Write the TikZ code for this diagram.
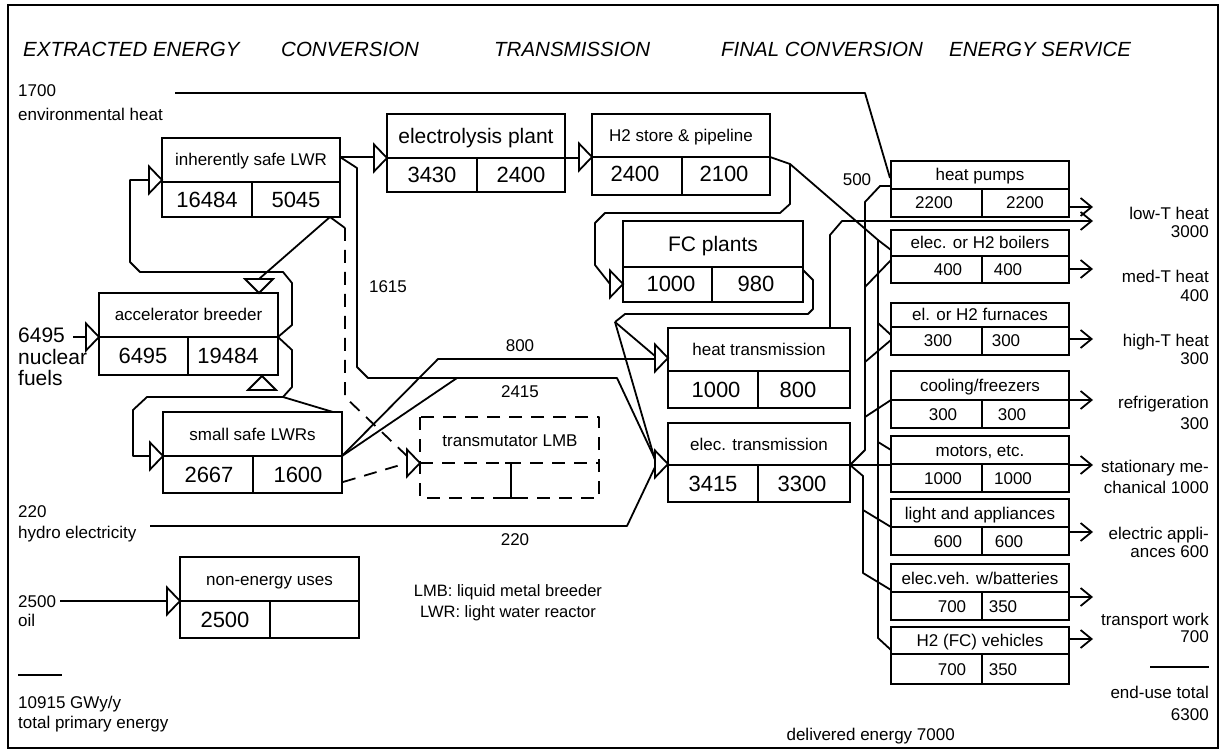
\documentclass[tikz,border=0pt]{standalone}
\usepackage{fontspec}
\setmainfont{Liberation Sans}
\usetikzlibrary{arrows.meta}
\newcommand\szS{\fontsize{17}{20}\selectfont}
\newcommand\szL{\fontsize{22}{26}\selectfont}
\newcommand\szM{\fontsize{21}{25}\selectfont}
\newcommand\szN{\fontsize{21}{25}\selectfont}
\newcommand\szH{\fontsize{20.5}{24}\selectfont\itshape}
\newcommand\szT{\fontsize{16.5}{19}\selectfont}
\newcommand\ebox[9]{%
  \draw[boxl] (#2,#3) rectangle (#5,#6);
  \draw[boxl] (#2,#4) -- (#5,#4) (#7,#4) -- (#7,#6);
  \pgfmathsetmacro\ecx{(#2+#5)/2}%
  \pgfmathsetmacro\ecy{(#3+#4)/2}%
  \node[#8] (#1) at (\ecx,\ecy) {#9};%
}
\newcommand\trir[3]{\draw[tri] (#2,#3) coordinate (#1) -- ++(-13,-13.5) -- ++(0,27) -- cycle;}
\newcommand\trid[3]{\draw[tri] (#2,#3) coordinate (#1) -- ++(-14,-14) -- ++(28,0) -- cycle;}
\newcommand\triu[3]{\draw[tri] (#2,#3) coordinate (#1) -- ++(-14,14) -- ++(28,0) -- cycle;}
\begin{document}
\begin{tikzpicture}[x=1pt,y=-1pt,
  boxl/.style={line width=2.2pt},
  ln/.style={line width=1.8pt,line join=round},
  dsh/.style={ln,dash pattern=on 13pt off 9pt},
  tri/.style={line width=1.8pt,line join=miter,fill=white},
  sarr/.style={ln,-{Straight Barb[length=11pt 0,width=18pt 0]}},
  labS/.style={inner sep=0pt,font=\szS,text height=12pt,text depth=0pt},
  labL/.style={inner sep=0pt,font=\szL,text height=15.5pt,text depth=0pt},
  labM/.style={inner sep=0pt,font=\szM,text height=15pt,text depth=0pt},
  bl/.style={font=\szS,inner sep=0pt,anchor=base west},
  blN/.style={font=\szN,inner sep=0pt,anchor=base west},
  br/.style={font=\szS,inner sep=0pt,anchor=base east},
  hd/.style={font=\szH,inner sep=0pt,anchor=base west}]
\useasboundingbox (0,0) rectangle (1224,751);
\fill[white] (0,0) rectangle (1224,751);
\draw[line width=2.2pt] (8,5) rectangle (1218,748);

% headers
\node[hd] (h1) at (23,57) {EXTRACTED ENERGY};
\node[hd] (h2) at (281,57) {CONVERSION};
\node[hd] (h3) at (494,57) {TRANSMISSION};
\node[hd] (h4) at (721,57) {FINAL CONVERSION};
\node[hd] (h5) at (949,57) {ENERGY SERVICE};

% left boxes
\ebox{isl}{162}{138}{182}{340}{217}{252}{labS}{inherently safe LWR}
\node[labL] (isl-a) at (207,199.5) {16484};
\node[labL] (isl-b) at (296,199.5) {5045};
\ebox{ele}{387}{114}{158}{565}{192}{477}{labM}{electrolysis plant}
\node[labL] (ele-a) at (432,175) {3430};
\node[labL] (ele-b) at (521,175) {2400};
\ebox{h2s}{592}{114}{157}{770}{195}{682}{labS}{H2 store \& pipeline}
\node[labL] (h2s-a) at (635,174) {2400};
\node[labL] (h2s-b) at (724,174) {2100};
\ebox{fcp}{623}{221}{267}{803}{302}{712}{labM}{FC plants}
\node[labL] (fcp-a) at (671,284) {1000};
\node[labL] (fcp-b) at (756,284) {980};
\ebox{acc}{99}{293}{337}{278}{375}{188}{labS}{accelerator breeder}
\node[labL] (acc-a) at (143,356) {6495};
\node[labL] (acc-b) at (228,356) {19484};
\ebox{ssl}{163}{412}{456}{342}{493}{253}{labS}{small safe LWRs}
\node[labL] (ssl-a) at (209,474.5) {2667};
\node[labL] (ssl-b) at (298,474.5) {1600};
\ebox{heat}{668}{328}{371}{850}{408}{758}{labS}{heat transmission}
\node[labL] (heat-a) at (716,389.5) {1000};
\node[labL] (heat-b) at (798,389.5) {800};
\ebox{elec}{668}{423}{465}{850}{502}{758}{labS}{elec. transmission}
\node[labL] (elec-a) at (713,483.5) {3415};
\node[labL] (elec-b) at (802,483.5) {3300};
\ebox{non}{180}{557}{601}{359}{638}{270}{labS}{non-energy uses}
\node[labL] (non-a) at (225,619.5) {2500};

% transmutator (dashed)
\draw[dsh] (420,417) rectangle (599,498);
\draw[dsh] (420,463) -- (599,463);
\draw[ln] (511,463) -- (511,498) (505,463) -- (517,463) (505,498) -- (517,498);
\node[labS] (tm) at (510,440) {transmutator LMB};

% right boxes
\ebox{hp}{891}{161}{189}{1069}{217}{982}{labS}{heat pumps}
\node[labS] (hp-a) at (934,203) {2200};
\node[labS] (hp-b) at (1025,203) {2200};
\ebox{bo}{891}{230}{256}{1069}{283}{982}{labS}{elec. or H2 boilers}
\node[labS] (bo-a) at (948,269.5) {400};
\node[labS] (bo-b) at (1008,269.5) {400};
\ebox{fu}{891}{303}{327}{1069}{355}{982}{labS}{el. or H2 furnaces}
\node[labS] (fu-a) at (938,341) {300};
\node[labS] (fu-b) at (1006,341) {300};
\ebox{co}{891}{371}{400}{1069}{428}{982}{labS}{cooling/freezers}
\node[labS] (co-a) at (943,414) {300};
\node[labS] (co-b) at (1012,414) {300};
\ebox{mo}{891}{436}{464}{1069}{492}{982}{labS}{motors, etc.}
\node[labS] (mo-a) at (943,478) {1000};
\node[labS] (mo-b) at (1013,478) {1000};
\ebox{li}{891}{499}{527}{1069}{555}{982}{labS}{light and appliances}
\node[labS] (li-a) at (948,541) {600};
\node[labS] (li-b) at (1009,541) {600};
\ebox{ev}{891}{564}{592}{1069}{620}{982}{labS}{elec.veh. w/batteries}
\node[labS] (ev-a) at (952,606) {700};
\node[labS] (ev-b) at (1003,606) {350};
\ebox{hv}{891}{627}{654}{1069}{684}{982}{labS}{H2 (FC) vehicles}
\node[labS] (hv-a) at (952,669) {700};
\node[labS] (hv-b) at (1003,669) {350};

% triangles (inputs)
\trir{isl-in}{162}{180}
\trir{acc-in}{99}{337}
\trir{ssl-in}{163}{456}
\trir{ele-in}{387}{158}
\trir{h2s-in}{592}{157}
\trir{fcp-in}{623}{284}
\trir{heat-in}{668}{358}
\trir{elec-in}{668}{464}
\trir{tm-in}{420}{463}
\trir{non-in}{180}{601}
\trid{acc-top}{259}{293}
\triu{acc-bot}{262}{376}

% ports
\coordinate (isl-o) at (340,157);
\coordinate (isl-c) at (330,217);
\coordinate (acc-o) at (278,337);
\coordinate (ssl-o) at (342,456);
\coordinate (ssl-c) at (333,412);
\coordinate (ssl-d) at (343,482);
\coordinate (ele-o) at (565,158);
\coordinate (h2s-o) at (770,157);
\coordinate (fcp-o) at (803,270);
\coordinate (heat-o) at (830,328);
\coordinate (elec-o) at (850,465);
\coordinate (j2415) at (457,378);
\coordinate (jfc) at (615,322);
\coordinate (jh2) at (790,164);
\coordinate (jbus) at (878,240);

% extracted energy inputs
\coordinate (env) at (175,93);
\draw[ln] (env) -- (865,93) -- (890,178);
\coordinate (nuc) at (73,337);
\draw[ln] (nuc) -- (86,337);
\coordinate (hyd) at (150,526);
\draw[ln] (hyd) -- (627,526) -- (655,467);
\coordinate (oil) at (60,601);
\draw[ln] (oil) -- (167,601);

% accelerator loops
\draw[ln] (acc-o) -- (292,325) -- (292,283) -- (283,272) -- (140,272) -- (130,262) -- (130,180) -- (149,180);
\draw[ln] (acc-o) -- (292,350) -- (292,387) -- (283,397) -- (147,397) -- (133,410) -- (133,456) -- (150,456);
\draw[ln] (isl-c) -- (259,279);
\draw[ln] (ssl-c) -- (283,397);

% LWR outputs
\draw[ln] (isl-o) -- (374,157);
\draw[ln] (isl-o) -- (357,168) -- (357,367) -- (368,378) -- (617,378) -- (655,459);
\draw[ln] (isl-c) -- (345,228);
\draw[dsh] (345,228) -- (345,397) -- (407,456);
\draw[ln] (ssl-o) -- (438,359) -- (655,359);
\draw[ln] (ssl-o) -- (j2415);
\draw[dsh] (ssl-d) -- (407,463);

% hydrogen chain
\draw[ln] (ele-o) -- (579,158);
\draw[ln] (h2s-o) -- (jh2) -- (790,204) -- (780,213) -- (605,213) -- (595,223) -- (595,265) -- (610,284);
\draw[ln] (jh2) -- (jbus) -- (891,250);
\draw[ln] (jbus) -- (878,638) -- (891,650);
\draw[ln] (878,323) -- (891,335);
\draw[ln] (878,442) -- (891,450);

% FC plants output
\draw[ln] (fcp-o) -- (813,280) -- (813,309) -- (808,314) -- (625,314) -- (jfc);
\draw[ln] (jfc) -- (655,356);
\draw[ln] (jfc) -- (655,460);

% heat transmission output
\draw[sarr] (heat-o) -- (830,235) -- (842,221) -- (1093,221);

% electricity distribution
\draw[ln] (elec-o) -- (891,465);
\draw[ln] (elec-o) -- (865,450) -- (865,202) -- (880,186) -- (891,186);
\draw[ln] (865,287) -- (891,260);
\draw[ln] (865,362) -- (891,340);
\draw[ln] (865,417) -- (891,400);
\draw[ln] (elec-o) -- (863,476) -- (863,510) -- (891,527);
\draw[ln] (863,510) -- (863,573) -- (891,590);

% service arrows
\draw[sarr] (1069,207) -- (1093,207);
\draw[sarr] (1069,269) -- (1093,269);
\draw[sarr] (1069,339) -- (1093,339);
\draw[sarr] (1069,400) -- (1093,400);
\draw[sarr] (1069,465) -- (1093,465);
\draw[sarr] (1069,532) -- (1093,532);
\draw[sarr] (1069,597) -- (1093,597);
\draw[sarr] (1069,639) -- (1093,639);

% flow labels
\node[labS] (l500) at (857,180) {500};
\node[labS] (l1615) at (388,287) {1615};
\node[labS] (l800) at (520,346) {800};
\node[labS] (l2415) at (520,392) {2415};
\node[labS] (l220) at (515,539) {220};

% left texts
\node[bl] (t1700) at (18,97) {1700};
\node[bl] (tenv) at (18,121) {environmental heat};
\node[blN] (t6495) at (18,343) {6495};
\node[blN] (tnuc) at (18,364) {nuclear};
\node[blN] (tfuel) at (18,385) {fuels};
\node[bl] (t220) at (18,517) {220};
\node[bl] (thyd) at (18,538) {hydro electricity};
\node[bl] (t2500) at (18,607) {2500};
\node[bl] (toil) at (18,626) {oil};
\coordinate (tl1) at (18,675);
\coordinate (tl2) at (62,675);
\draw[ln] (tl1) -- (tl2);
\node[bl] (ttot1) at (18,708) {10915 GWy/y};
\node[bl] (ttot2) at (18,728) {total primary energy};
\node[font=\szT,inner sep=0pt,anchor=base] (lmb) at (508,596) {LMB: liquid metal breeder};
\node[font=\szT,inner sep=0pt,anchor=base] (lwr) at (508,617) {LWR: light water reactor};

% right texts
\node[br] (s1) at (1209,220) {low-T heat};
\node[br] (s1n) at (1209,238) {3000};
\node[br] (s2) at (1209,283) {med-T heat};
\node[br] (s2n) at (1209,302) {400};
\node[br] (s3) at (1209,347) {high-T heat};
\node[br] (s3n) at (1209,365) {300};
\node[br] (s4) at (1209,408) {refrigeration};
\node[br] (s4n) at (1209,429) {300};
\node[br] (s5) at (1209,472) {stationary me-};
\node[br] (s5n) at (1209,493) {chanical 1000};
\node[br] (s6) at (1209,539) {electric appli-};
\node[br] (s6n) at (1209,557) {ances 600};
\node[br] (s7) at (1209,625) {transport work};
\node[br] (s7n) at (1209,642) {700};
\coordinate (tr1) at (1150,667);
\coordinate (tr2) at (1209,667);
\draw[ln] (tr1) -- (tr2);
\node[br] (s8) at (1209,698) {end-use total};
\node[br] (s8n) at (1209,720) {6300};
\node[br] (deliv) at (955,740) {delivered energy 7000};
\end{tikzpicture}
\end{document}
